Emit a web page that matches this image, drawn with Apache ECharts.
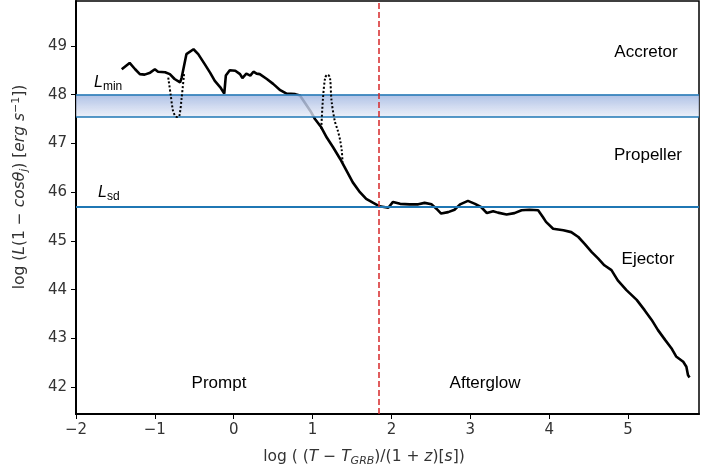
<!DOCTYPE html>
<html>
<head>
<meta charset="utf-8">
<script src="https://cdn.jsdelivr.net/npm/echarts@6/dist/echarts.min.js"></script>
<style>html,body{margin:0;padding:0;background:#fff}#c{width:726px;height:471px}</style>
</head>
<body>
<div id="c"></div>
<script>
// ---- data ----
const solidX = [-1.42,-1.32,-1.25,-1.19,-1.13,-1.06,-1.00,-0.96,-0.87,-0.81,-0.75,-0.68,-0.66,-0.60,-0.51,-0.45,-0.37,-0.30,-0.24,-0.17,-0.12,-0.10,-0.05,0.02,0.08,0.11,0.16,0.21,0.25,0.29,0.33,0.42,0.50,0.59,0.67,0.78,0.84,0.90,0.97,1.03,1.11,1.18,1.26,1.35,1.43,1.51,1.60,1.68,1.77,1.85,1.96,2.02,2.11,2.23,2.34,2.42,2.51,2.57,2.63,2.72,2.80,2.87,2.97,3.06,3.14,3.21,3.29,3.35,3.46,3.56,3.65,3.75,3.86,3.92,3.96,4.05,4.18,4.28,4.37,4.45,4.54,4.62,4.70,4.79,4.87,4.98,5.11,5.21,5.30,5.38,5.47,5.55,5.61,5.70,5.74,5.76,5.78];
const solidY = [48.52,48.65,48.52,48.42,48.41,48.45,48.52,48.47,48.46,48.42,48.32,48.25,48.35,48.83,48.93,48.83,48.63,48.45,48.28,48.15,48.02,48.39,48.50,48.49,48.42,48.34,48.43,48.39,48.47,48.43,48.42,48.32,48.22,48.09,48.02,48.01,47.98,47.84,47.67,47.50,47.33,47.12,46.92,46.68,46.44,46.20,46.00,45.86,45.78,45.71,45.68,45.80,45.76,45.75,45.75,45.78,45.75,45.66,45.56,45.59,45.64,45.75,45.82,45.76,45.69,45.57,45.61,45.58,45.54,45.57,45.63,45.64,45.63,45.49,45.39,45.25,45.22,45.18,45.08,44.94,44.77,44.64,44.50,44.40,44.19,43.99,43.79,43.58,43.38,43.17,42.97,42.80,42.63,42.52,42.42,42.25,42.20];
const dot1X = [-0.83,-0.80,-0.77,-0.74,-0.72,-0.69,-0.66,-0.63];
const dot1Y = [48.35,48.00,47.67,47.56,47.54,47.56,47.94,48.42];
const dot2X = [1.11,1.13,1.16,1.19,1.22,1.24,1.28,1.32,1.35,1.37,1.38];
const dot2Y = [47.30,47.88,48.35,48.41,48.35,47.88,47.47,47.26,47.06,46.85,46.61];
const lMinTop = 48.0, lMinBottom = 47.54, lSd = 45.70, tBreak = 1.84;
const xTicks = [-2,-1,0,1,2,3,4,5];
const yTicks = [42,43,44,45,46,47,48,49];
const xRange = [-2, 5.9], yRange = [41.45, 49.92];

const zip = (xs, ys) => xs.map((x, i) => [x, ys[i]]);
const chart = echarts.init(document.getElementById('c'));
const fontTick = '"DejaVu Sans", sans-serif';
const fontAnn = '"Liberation Sans", Arial, sans-serif';
const blue = '#1f77b4';
const bandGradient = new echarts.graphic.LinearGradient(0, 0, 0, 1, [
  { offset: 0, color: 'rgba(160,182,225,0.85)' },
  { offset: 1, color: 'rgba(232,236,247,0.78)' }]);

chart.setOption({
  animation: false,
  grid: { left: 76, right: 27, top: 1, bottom: 57, show: true, borderColor: '#000', borderWidth: 1.5, backgroundColor: 'transparent' },
  xAxis: {
    type: 'value', min: xRange[0], max: xRange[1],
    axisLine: { onZero: false, lineStyle: { color: '#000', width: 2 } },
    axisTick: { show: true, length: 5, customValues: xTicks, lineStyle: { color: '#000' } },
    axisLabel: { color: '#333', fontFamily: fontTick, fontSize: 15, margin: 9, customValues: xTicks,
      formatter: v => (v < 0 ? '\u2212' + Math.abs(v) : String(v)) },
    splitLine: { show: false }
  },
  yAxis: {
    type: 'value', min: yRange[0], max: yRange[1],
    axisLine: { onZero: false, lineStyle: { color: '#000', width: 2 } },
    axisTick: { show: true, length: 5, customValues: yTicks, lineStyle: { color: '#000' } },
    axisLabel: { color: '#333', fontFamily: fontTick, fontSize: 15, margin: 9, customValues: yTicks },
    splitLine: { show: false }
  },
  series: [
    { type: 'line', data: zip(solidX, solidY), showSymbol: false, z: 3,
      lineStyle: { color: '#000', width: 2.6 } },
    { type: 'line', data: zip(dot1X, dot1Y), showSymbol: false, z: 12, smooth: 0.3,
      lineStyle: { color: '#000', width: 2, type: [2, 2] } },
    { type: 'line', data: zip(dot2X, dot2Y), showSymbol: false, z: 12, smooth: 0.3,
      lineStyle: { color: '#000', width: 2, type: [2, 2] } },
    { type: 'custom', z: 10, silent: true, data: [[lMinTop, lMinBottom]],
      renderItem: (params, api) => {
        const p1 = api.coord([xRange[0], api.value(0)]);
        const p2 = api.coord([xRange[1], api.value(1)]);
        return { type: 'rect', shape: { x: p1[0], y: p1[1], width: p2[0] - p1[0], height: p2[1] - p1[1] },
          style: { fill: bandGradient } };
      } },
    { type: 'line', data: [], z: 11,
      markLine: { silent: true, symbol: 'none', label: { show: false }, z: 11,
        data: [
          { yAxis: lMinTop, lineStyle: { color: blue, width: 1.5, type: 'solid' } },
          { yAxis: lMinBottom, lineStyle: { color: blue, width: 1.5, type: 'solid' } },
          { yAxis: lSd, lineStyle: { color: blue, width: 2, type: 'solid' } },
          { xAxis: tBreak, lineStyle: { color: '#d62728', width: 1.5, type: [6, 3] } }
        ] } }
  ],
  graphic: [
    { type: 'text', x: 646, y: 52, style: { text: 'Accretor', font: '17px ' + fontAnn, fill: '#000', align: 'center', verticalAlign: 'middle' } },
    { type: 'text', x: 648, y: 155, style: { text: 'Propeller', font: '17px ' + fontAnn, fill: '#000', align: 'center', verticalAlign: 'middle' } },
    { type: 'text', x: 648, y: 259, style: { text: 'Ejector', font: '17px ' + fontAnn, fill: '#000', align: 'center', verticalAlign: 'middle' } },
    { type: 'text', x: 219, y: 383, style: { text: 'Prompt', font: '17px ' + fontAnn, fill: '#000', align: 'center', verticalAlign: 'middle' } },
    { type: 'text', x: 485, y: 383, style: { text: 'Afterglow', font: '17px ' + fontAnn, fill: '#000', align: 'center', verticalAlign: 'middle' } },
    { type: 'text', x: 94, y: 83, style: { text: '{i|L}{s|min}', verticalAlign: 'middle',
      rich: { i: { font: 'italic 16px ' + fontAnn, fill: '#000', lineHeight: 16 },
              s: { font: '12px ' + fontAnn, fill: '#000', padding: [8, 0, 0, 0], lineHeight: 16 } } } },
    { type: 'text', x: 98, y: 193, style: { text: '{i|L}{s|sd}', verticalAlign: 'middle',
      rich: { i: { font: 'italic 16px ' + fontAnn, fill: '#000', lineHeight: 16 },
              s: { font: '12px ' + fontAnn, fill: '#000', padding: [8, 0, 0, 0], lineHeight: 16 } } } },
    { type: 'text', x: 364, y: 457, style: {
      text: '{n|log ( (}{i|T}{n| \u2212 }{i|T}{s|GRB}{n|)/(1 + }{i|z}{n|)[}{i|s}{n|])}', align: 'center', verticalAlign: 'middle',
      rich: { n: { font: '15.5px ' + fontTick, fill: '#333', lineHeight: 20 },
              i: { font: 'italic 15.5px ' + fontTick, fill: '#333', lineHeight: 20 },
              s: { font: 'italic 11px ' + fontTick, fill: '#333', padding: [8, 0, 0, 0], lineHeight: 20 } } } },
    { type: 'text', x: 20, y: 187, rotation: Math.PI / 2, style: {
      text: '{n|log (}{i|L}{n|(1 \u2212 }{i|cos\u03b8}{s|j}{n|) [}{i|erg s}{p|\u22121}{n|])}', align: 'center', verticalAlign: 'middle',
      rich: { n: { font: '15.5px ' + fontTick, fill: '#333', lineHeight: 20 },
              i: { font: 'italic 15.5px ' + fontTick, fill: '#333', lineHeight: 20 },
              s: { font: 'italic 11px ' + fontTick, fill: '#333', padding: [8, 0, 0, 0], lineHeight: 20 },
              p: { font: '11px ' + fontTick, fill: '#333', padding: [0, 0, 8, 0], lineHeight: 20 } } } }
  ]
});
</script>
</body>
</html>
